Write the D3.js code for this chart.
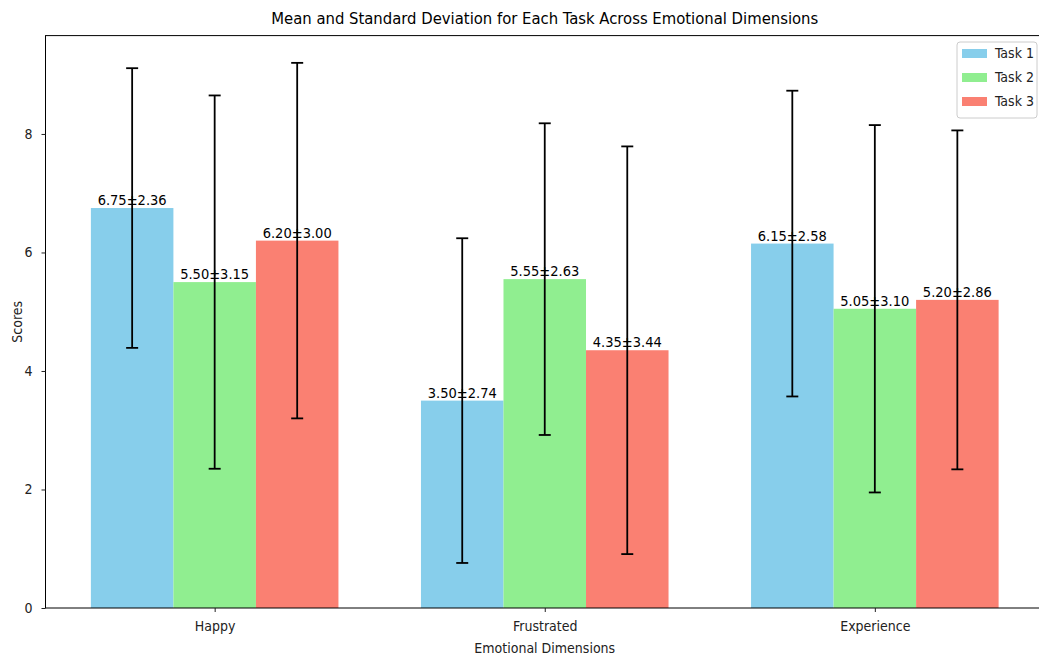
<!DOCTYPE html>
<html><head><meta charset="utf-8">
<script src="https://cdn.jsdelivr.net/npm/d3@7"></script>
<style>
body{margin:0;background:#fff;}
svg{display:block;font-family:"DejaVu Sans Condensed","DejaVu Sans",sans-serif;}
</style></head>
<body>
<svg id="c" width="1039" height="660"></svg>
<script>
const categories = ["Happy", "Frustrated", "Experience"];
const tasks = ["Task 1", "Task 2", "Task 3"];
const means = [
  [6.75, 3.50, 6.15],
  [5.50, 5.55, 5.05],
  [6.20, 4.35, 5.20]
];
const stds = [
  [2.36, 2.74, 2.58],
  [3.15, 2.63, 3.10],
  [3.00, 3.44, 2.86]
];
const colors = ["#87CEEB", "#90EE90", "#FA8072"];
const yTicks = [0, 2, 4, 6, 8];

const svg = d3.select("#c");
const L = 45.5, R = 1044, T = 35.6, B = 608;
const barW = 0.25;
const x = d3.scaleLinear().domain([-0.5125, 2.5125]).range([L, R]);
const y = d3.scaleLinear().domain([0, 9.66]).range([B, T]);

const bars = [];
tasks.forEach((t, j) => categories.forEach((c, i) => {
  bars.push({i, j, m: means[j][i], s: stds[j][i]});
}));

svg.append("g").selectAll("rect").data(bars).join("rect")
  .attr("x", d => x(d.i + (d.j - 1) * barW - barW / 2))
  .attr("width", d => x(barW) - x(0))
  .attr("y", d => y(d.m))
  .attr("height", d => y(0) - y(d.m))
  .attr("fill", d => colors[d.j]);

const eb = svg.append("g").attr("stroke", "#000").attr("stroke-width", 1.8);
bars.forEach(d => {
  const cx = x(d.i + (d.j - 1) * barW);
  eb.append("line").attr("x1", cx).attr("x2", cx).attr("y1", y(d.m - d.s)).attr("y2", y(d.m + d.s));
  [d.m - d.s, d.m + d.s].forEach(v => eb.append("line")
    .attr("x1", cx - 6).attr("x2", cx + 6).attr("y1", y(v)).attr("y2", y(v)));
});

svg.append("g").selectAll("text").data(bars).join("text")
  .attr("x", d => x(d.i + (d.j - 1) * barW))
  .attr("y", d => y(d.m) - 3)
  .attr("text-anchor", "middle")
  .attr("font-size", 14.5)
  .attr("fill", "#000")
  .text(d => d.m.toFixed(2) + "±" + d.s.toFixed(2));

// frame
svg.append("rect").attr("x", L).attr("y", T).attr("width", R - L).attr("height", B - T)
  .attr("fill", "none").attr("stroke", "#000").attr("stroke-width", 1);

// axes
const xa = svg.append("g").attr("transform", `translate(0,${B})`)
  .call(d3.axisBottom(x).tickValues([0, 1, 2]).tickFormat(i => categories[i]).tickSize(4).tickPadding(9));
const ya = svg.append("g").attr("transform", `translate(${L},0)`)
  .call(d3.axisLeft(y).tickValues(yTicks).tickSize(4).tickPadding(9));
[xa, ya].forEach(a => {
  a.select(".domain").remove();
  a.selectAll("text").attr("font-size", 14).attr("fill", "#222").attr("font-family", "DejaVu Sans Condensed, DejaVu Sans");
  a.selectAll("line").attr("stroke", "#222");
});

svg.append("text").attr("x", (L + R) / 2 + 0).attr("y", 24).attr("text-anchor", "middle")
  .attr("font-size", 16.5).attr("fill", "#000")
  .text("Mean and Standard Deviation for Each Task Across Emotional Dimensions");
svg.append("text").attr("x", x(1)).attr("y", 653).attr("text-anchor", "middle")
  .attr("font-size", 14).attr("fill", "#222").text("Emotional Dimensions");
svg.append("text").attr("transform", `translate(22,${(T + B) / 2}) rotate(-90)`).attr("text-anchor", "middle")
  .attr("font-size", 14).attr("fill", "#222").text("Scores");

// legend
const lg = svg.append("g").attr("transform", "translate(957,42)");
lg.append("rect").attr("width", 80).attr("height", 76).attr("rx", 3)
  .attr("fill", "#fff").attr("fill-opacity", 0.8).attr("stroke", "#ccc");
tasks.forEach((t, j) => {
  lg.append("rect").attr("x", 5).attr("y", 7 + j * 24).attr("width", 25).attr("height", 9).attr("fill", colors[j]);
  lg.append("text").attr("x", 38).attr("y", 16 + j * 24).attr("font-size", 14).attr("fill", "#222").text(t);
});
</script>
</body></html>
